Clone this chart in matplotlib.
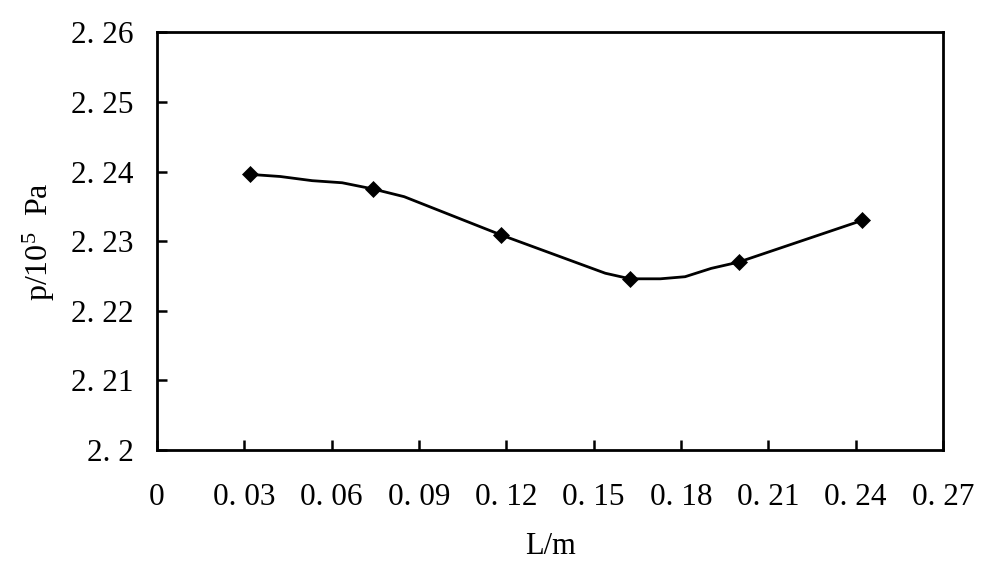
import matplotlib
matplotlib.use("Agg")
import matplotlib.pyplot as plt

# Polyline of the measured curve (includes unmarked intermediate points)
curve_x = [0.0320, 0.0423, 0.0533, 0.0636, 0.0743, 0.0849, 0.1182, 0.1540,
           0.1625, 0.1729, 0.1814, 0.1904, 0.1998, 0.2423]
curve_y = [2.2396, 2.2393, 2.2387, 2.2384, 2.2375, 2.2364, 2.2309, 2.2254,
           2.2246, 2.2246, 2.2249, 2.2261, 2.2270, 2.2330]
# Marked measurement points
mark_x = [0.0320, 0.0743, 0.1182, 0.1625, 0.1998, 0.2423]
mark_y = [2.2396, 2.2375, 2.2309, 2.2246, 2.2270, 2.2330]

xticks = [0, 0.03, 0.06, 0.09, 0.12, 0.15, 0.18, 0.21, 0.24, 0.27]
xtick_labels = ["0", "0. 03", "0. 06", "0. 09", "0. 12", "0. 15", "0. 18",
                "0. 21", "0. 24", "0. 27"]
yticks = [2.20, 2.21, 2.22, 2.23, 2.24, 2.25, 2.26]
ytick_labels = ["2. 2", "2. 21", "2. 22", "2. 23", "2. 24", "2. 25", "2. 26"]
xlabel = "L/m"
ylabel = "p/10$^{5}$  Pa"

plt.rcParams['font.family'] = ['Liberation Serif', 'DejaVu Serif']
plt.rcParams['mathtext.fontset'] = 'custom'
plt.rcParams['mathtext.rm'] = 'Liberation Serif'
plt.rcParams['mathtext.it'] = 'Liberation Serif'

fig = plt.figure(figsize=(10, 5.8), dpi=100)
ax = fig.add_axes([0.157, 0.2241, 0.786, 0.72])

ax.plot(curve_x, curve_y, color='black', linewidth=2.0, zorder=2)
ax.plot(mark_x, mark_y, linestyle='none', marker='D', markersize=8.5,
        markerfacecolor='black', markeredgecolor='black', markeredgewidth=0.5,
        zorder=3)

ax.set_xlim(0, 0.27)
ax.set_ylim(2.20, 2.26)
ax.set_xticks(xticks)
ax.set_xticklabels(xtick_labels)
ax.set_yticks(yticks)
ax.set_yticklabels(ytick_labels)

ax.tick_params(axis='both', direction='in', length=7, width=1.8,
               labelsize=22.5, colors='black')
ax.tick_params(axis='x', pad=24)
ax.tick_params(axis='y', pad=17)
for s in ax.spines.values():
    s.set_linewidth(2.0)
    s.set_color('black')

ax.set_xlabel(xlabel, fontsize=22, labelpad=14)
ax.set_ylabel(ylabel, fontsize=23, labelpad=10)

fig.savefig("out.png", dpi=100, facecolor='white')
